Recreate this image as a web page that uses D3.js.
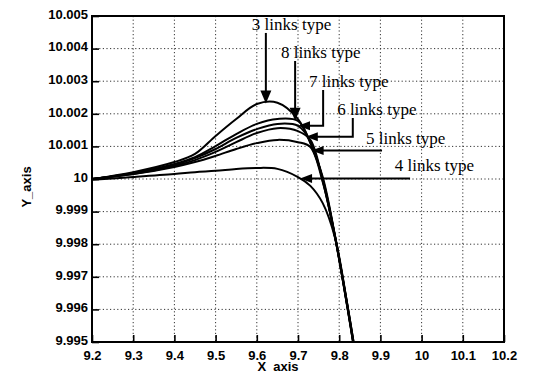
<!DOCTYPE html>
<html>
<head>
<meta charset="utf-8">
<script src="https://cdn.jsdelivr.net/npm/d3@7"></script>
<style>
  html, body { margin: 0; padding: 0; background: #fff; }
  svg { display: block; }
</style>
</head>
<body>
<svg id="chart" width="534" height="372"></svg>
<script>
// Sample positions along the x axis shared by every series
const xSamples = [9.2, 9.3, 9.4, 9.45, 9.5, 9.55, 9.6, 9.65, 9.7, 9.73, 9.76, 9.79, 9.82, 9.84];

// Response of each link type at the sample positions
const links3 = [10.0000, 10.00021, 10.00052, 10.00077, 10.00132, 10.00184, 10.00230, 10.00234, 10.00184, 10.00110, 10.00006, 9.99825, 9.99613, 9.99460];
const links8 = [10.0000, 10.00018, 10.00046, 10.00067, 10.00101, 10.00138, 10.00169, 10.00184, 10.00178, 10.00112, 10.00000, 9.99824, 9.99610, 9.99455];
const links7 = [10.0000, 10.00018, 10.00043, 10.00064, 10.00092, 10.00126, 10.00153, 10.00169, 10.00163, 10.00116, 9.99998, 9.99822, 9.99607, 9.99452];
const links6 = [10.0000, 10.00015, 10.00040, 10.00058, 10.00083, 10.00113, 10.00141, 10.00156, 10.00147, 10.00120, 9.99995, 9.99820, 9.99605, 9.99449];
const links5 = [10.0000, 10.00015, 10.00037, 10.00052, 10.00071, 10.00092, 10.00110, 10.00120, 10.00113, 10.00098, 9.99991, 9.99822, 9.99607, 9.99451];
const links4 = [9.99998, 10.00006, 10.00015, 10.00021, 10.00025, 10.00031, 10.00034, 10.00031, 10.00006, 9.99979, 9.99926, 9.99819, 9.99613, 9.99460];

const seriesLabels = ["3 links type", "8 links type", "7 links type", "6 links type", "5 links type", "4 links type"];
const seriesValues = [links3, links8, links7, links6, links5, links4];

// Axis ticks
const xTicks = [9.2, 9.3, 9.4, 9.5, 9.6, 9.7, 9.8, 9.9, 10, 10.1, 10.2];
const xTickLabels = ["9.2", "9.3", "9.4", "9.5", "9.6", "9.7", "9.8", "9.9", "10", "10.1", "10.2"];
const yTicks = [9.995, 9.996, 9.997, 9.998, 9.999, 10, 10.001, 10.002, 10.003, 10.004, 10.005];
const yTickLabels = ["9.995", "9.996", "9.997", "9.998", "9.999", "10", "10.001", "10.002", "10.003", "10.004", "10.005"];
const xTitle = "X_axis";
const yTitle = "Y_axis";

// ---- drawing ----
const svg = d3.select("#chart");
const plot = { left: 92, right: 504, top: 16, bottom: 342 };

const x = d3.scaleLinear().domain([9.2, 10.2]).range([plot.left, plot.right]);
const y = d3.scaleLinear().domain([9.995, 10.005]).range([plot.bottom, plot.top]);

const tickFont = "'Liberation Sans', Arial, Helvetica, sans-serif";

// dotted grid
const grid = svg.append("g").attr("stroke", "#333").attr("stroke-width", 1)
  .attr("stroke-dasharray", "1.2,2.4");
grid.selectAll("line.gx").data(xTicks.slice(1, -1)).join("line")
  .attr("x1", d => x(d)).attr("x2", d => x(d))
  .attr("y1", plot.top).attr("y2", plot.bottom);
grid.selectAll("line.gy").data(yTicks.slice(1, -1)).join("line")
  .attr("x1", plot.left).attr("x2", plot.right)
  .attr("y1", d => y(d)).attr("y2", d => y(d));

// axes with inward ticks
const xAxis = d3.axisBottom(x).tickValues(xTicks)
  .tickFormat((d, i) => xTickLabels[i]).tickSizeInner(-7).tickSizeOuter(0).tickPadding(9);
const yAxis = d3.axisLeft(y).tickValues(yTicks)
  .tickFormat((d, i) => yTickLabels[i]).tickSizeInner(-7).tickSizeOuter(0).tickPadding(4);

const gx = svg.append("g").attr("transform", `translate(0,${plot.bottom})`).call(xAxis);
const gy = svg.append("g").attr("transform", `translate(${plot.left},0)`).call(yAxis);
[gx, gy].forEach(g => {
  g.select(".domain").remove();
  g.selectAll(".tick line").attr("stroke", "#000").attr("stroke-width", 1.6);
  g.selectAll(".tick text").attr("fill", "#000")
    .style("font-family", tickFont).style("font-size", "13px").style("font-weight", "bold");
});
gy.selectAll(".tick text").attr("dy", "0.17em");

// frame
svg.append("rect")
  .attr("x", plot.left).attr("y", plot.top)
  .attr("width", plot.right - plot.left).attr("height", plot.bottom - plot.top)
  .attr("fill", "none").attr("stroke", "#000").attr("stroke-width", 2);

// axis titles
svg.append("text").text(xTitle)
  .attr("x", 278).attr("y", 370.5).attr("text-anchor", "middle")
  .style("font-family", tickFont).style("font-size", "13px").style("font-weight", "bold");
svg.append("text").text(yTitle)
  .attr("transform", "translate(31,187) rotate(-90)").attr("text-anchor", "middle")
  .style("font-family", tickFont).style("font-size", "13px").style("font-weight", "bold");

// curves, clipped to the plotting area
svg.append("clipPath").attr("id", "plotClip").append("rect")
  .attr("x", plot.left).attr("y", plot.top)
  .attr("width", plot.right - plot.left).attr("height", plot.bottom - plot.top);

const line = d3.line()
  .x((d, i) => x(xSamples[i]))
  .y(d => y(d))
  .curve(d3.curveCatmullRom.alpha(0.5));

svg.append("g").attr("clip-path", "url(#plotClip)")
  .selectAll("path").data(seriesValues).join("path")
  .attr("d", line)
  .attr("fill", "none").attr("stroke", "#000").attr("stroke-width", 2)
  .attr("stroke-linejoin", "round");

// ---- annotations: label, leader line and arrowhead touching its curve ----
const valueAt = vals => d3.scaleLinear().domain(xSamples).range(vals);

// text anchor, leader start and the x where the arrow meets the curve (data units)
const notes = [
  { s: 0, textX: 9.588, textY: 10.00457, startX: 9.622, startY: 10.00448, tipX: 9.622, dir: "down" },
  { s: 1, textX: 9.659, textY: 10.00371, startX: 9.693, startY: 10.00362, tipX: 9.693, dir: "down" },
  { s: 2, textX: 9.727, textY: 10.00282, startX: 9.761, startY: 10.00273, tipX: 9.700, dir: "left" },
  { s: 3, textX: 9.795, textY: 10.00196, startX: 9.833, startY: 10.00187, tipX: 9.719, dir: "left" },
  { s: 4, textX: 9.865, textY: 10.00107, startX: 9.904, startY: null,     tipX: 9.733, dir: "left" },
  { s: 5, textX: 9.935, textY: 10.00025, startX: 9.972, startY: null,     tipX: 9.705, dir: "left" }
];

const ann = svg.append("g");
notes.forEach(n => {
  const tipY = valueAt(seriesValues[n.s])(n.tipX);
  const tx = x(n.tipX), ty = y(tipY);
  const sx = x(n.startX);
  let pts;
  if (n.dir === "down") {
    pts = [[sx, y(n.startY)], [tx, ty - 10]];
  } else if (n.startY !== null) {
    pts = [[sx, y(n.startY)], [sx, ty], [tx + 9, ty]];
  } else {
    pts = [[sx, ty], [tx + 9, ty]];
  }
  ann.append("path")
    .attr("d", d3.line()(pts))
    .attr("fill", "none").attr("stroke", "#000").attr("stroke-width", 2);

  let head;
  if (n.dir === "down") {
    head = [[tx, ty], [tx - 5.5, ty - 13], [tx + 5.5, ty - 13]];
  } else {
    head = [[tx, ty], [tx + 12, ty - 4.5], [tx + 12, ty + 4.5]];
  }
  ann.append("path").attr("d", d3.line()(head) + "Z").attr("fill", "#000");

  ann.append("text").text(seriesLabels[n.s])
    .attr("x", x(n.textX)).attr("y", y(n.textY))
    .style("font-family", "'Liberation Serif', 'Times New Roman', serif")
    .style("font-size", "17px").attr("fill", "#000");
});
</script>
</body>
</html>
